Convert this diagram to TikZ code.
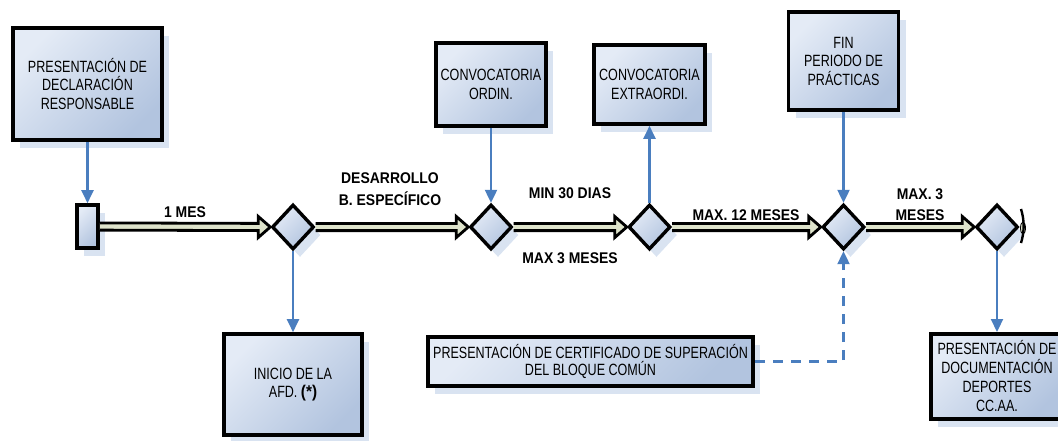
\documentclass[tikz,border=0pt]{standalone}
\usepackage{fontspec}
\setmainfont{Liberation Sans}[FakeStretch=0.77]
\newfontfamily\labfont{Liberation Sans}[FakeStretch=0.9]
\usetikzlibrary{shapes.geometric,shadows,calc,arrows.meta}
\definecolor{boxlight}{HTML}{E4EBF6}
\definecolor{boxdark}{HTML}{B2C4DF}
\definecolor{shadowblue}{HTML}{D9E3F1}
\definecolor{linkblue}{HTML}{4A7EBF}
\definecolor{beige}{HTML}{DEE3CB}
\tikzset{
  card/.style={draw=black, line width=3.6pt, top color=boxlight, bottom color=boxdark,
    shading angle=45,
    drop shadow={shadow xshift=7pt, shadow yshift=-8pt, fill=shadowblue, opacity=1},
    align=center, font=\fontsize{16.3}{18.5}\selectfont, inner sep=1pt},
  gate/.style={diamond, draw=black, line width=3.4pt, minimum width=42pt, minimum height=45pt,
    inner sep=0pt, top color=boxlight, bottom color=boxdark, shading angle=45,
    drop shadow={shadow xshift=7pt, shadow yshift=-8pt, fill=shadowblue, opacity=1}},
  lab/.style={font=\labfont\bfseries\fontsize{15.5}{22.5}\selectfont, inner sep=0pt, align=center},
  link/.style={draw=linkblue, line width=2.2pt, -{Triangle[length=13pt,width=12pt]}},
  blkfill/.style={fill=beige},
  blkline/.style={draw=black, line width=2.8pt, line join=miter},
}
\newcommand\blk[2]{%
  \fill[blkfill] ($(#1)+(0,-3.6)$) -- ($(#2)+(-12,-3.6)$) -- ($(#2)+(-12,-10.5)$) -- (#2)
     -- ($(#2)+(-12,10.5)$) -- ($(#2)+(-12,3.6)$) -- ($(#1)+(0,3.6)$) -- cycle;
  \draw[blkline] ($(#1)+(0,-3.6)$) -- ($(#2)+(-12,-3.6)$) -- ($(#2)+(-12,-10.5)$) -- (#2)
     -- ($(#2)+(-12,10.5)$) -- ($(#2)+(-12,3.6)$) -- ($(#1)+(0,3.6)$);}
\begin{document}
\begin{tikzpicture}[x=1pt,y=-1pt]
\useasboundingbox (0,0) rectangle (1058,440);
% boxes
\node[card, minimum width=149pt, minimum height=112pt] (decl) at (87.5,84) {PRESENTACIÓN DE\\DECLARACIÓN\\RESPONSABLE};
\node[card, minimum width=21pt, minimum height=43pt, inner sep=0pt] (start) at (87.5,226.5) {};
\node[card, minimum width=110pt, minimum height=83pt] (ord) at (491,84.5) {CONVOCATORIA\\ORDIN.};
\node[card, minimum width=111pt, minimum height=79pt] (ext) at (649.5,84.5) {CONVOCATORIA\\EXTRAORDI.};
\node[card, minimum width=110pt, minimum height=98pt] (fin) at (843.5,61) {FIN\\PERIODO DE\\PRÁCTICAS};
\node[card, minimum width=138pt, minimum height=101pt] (ini) at (293,384.5) {INICIO DE LA\\AFD. {\labfont\bfseries\fontsize{17}{18}\selectfont(*)}};
\node[card, minimum width=325pt, minimum height=49pt, line width=4pt, font=\fontsize{16.3}{17}\selectfont] (cert) at (590.5,361.5) {PRESENTACIÓN DE CERTIFICADO DE SUPERACIÓN\\DEL BLOQUE COMÚN};
\node[card, minimum width=132pt, minimum height=85pt, line width=4pt, font=\fontsize{16.3}{19}\selectfont] (doc) at (997,376.5) {PRESENTACIÓN DE\\DOCUMENTACIÓN\\DEPORTES\\CC.AA.};
% diamonds
\node[gate] (d1) at (293,227) {};
\node[gate] (d2) at (491,227) {};
\node[gate] (d3) at (649.5,227) {};
\node[gate] (d4) at (843.5,227) {};
\node[gate] (d5) at (997,227) {};
% block arrows
\blk{start.east}{d1.west}
\blk{d1.east}{d2.west}
\blk{d2.east}{d3.west}
\blk{d3.east}{d4.west}
\blk{d4.east}{d5.west}
% clipped tail at right
\filldraw[fill=beige, draw=black, line width=0.8pt] (1023,228) ellipse (2.5 and 6);
\draw[line width=2.4pt] (1021,209) .. controls (1024.5,220) and (1024.5,232) .. (1021,243);
% blue links
\draw[link] (decl.south) -- (start.north);
\draw[link] (d1.south) -- (ini.north);
\draw[link] (ord.south) -- (d2.north);
\draw[link] (d3.north) -- (ext.south);
\draw[link] (fin.south) -- (d4.north);
\draw[link] (d5.south) -- (doc.north);
\draw[link, dash pattern=on 10pt off 8pt] (cert.east) -| (d4.south);
% labels
\node[lab] (l1) at (185,212) {1 MES};
\node[lab] (l2) at (390,189) {DESARROLLO\\B. ESPECÍFICO};
\node[lab] (l3) at (570,193) {MIN 30 DIAS};
\node[lab] (l4) at (570,258) {MAX 3 MESES};
\node[lab] (l5) at (746,215) {MAX. 12 MESES};
\node[lab, font=\labfont\bfseries\fontsize{15.5}{21}\selectfont] (l6) at (920,204.5) {MAX. 3\\MESES};
\end{tikzpicture}
\end{document}
